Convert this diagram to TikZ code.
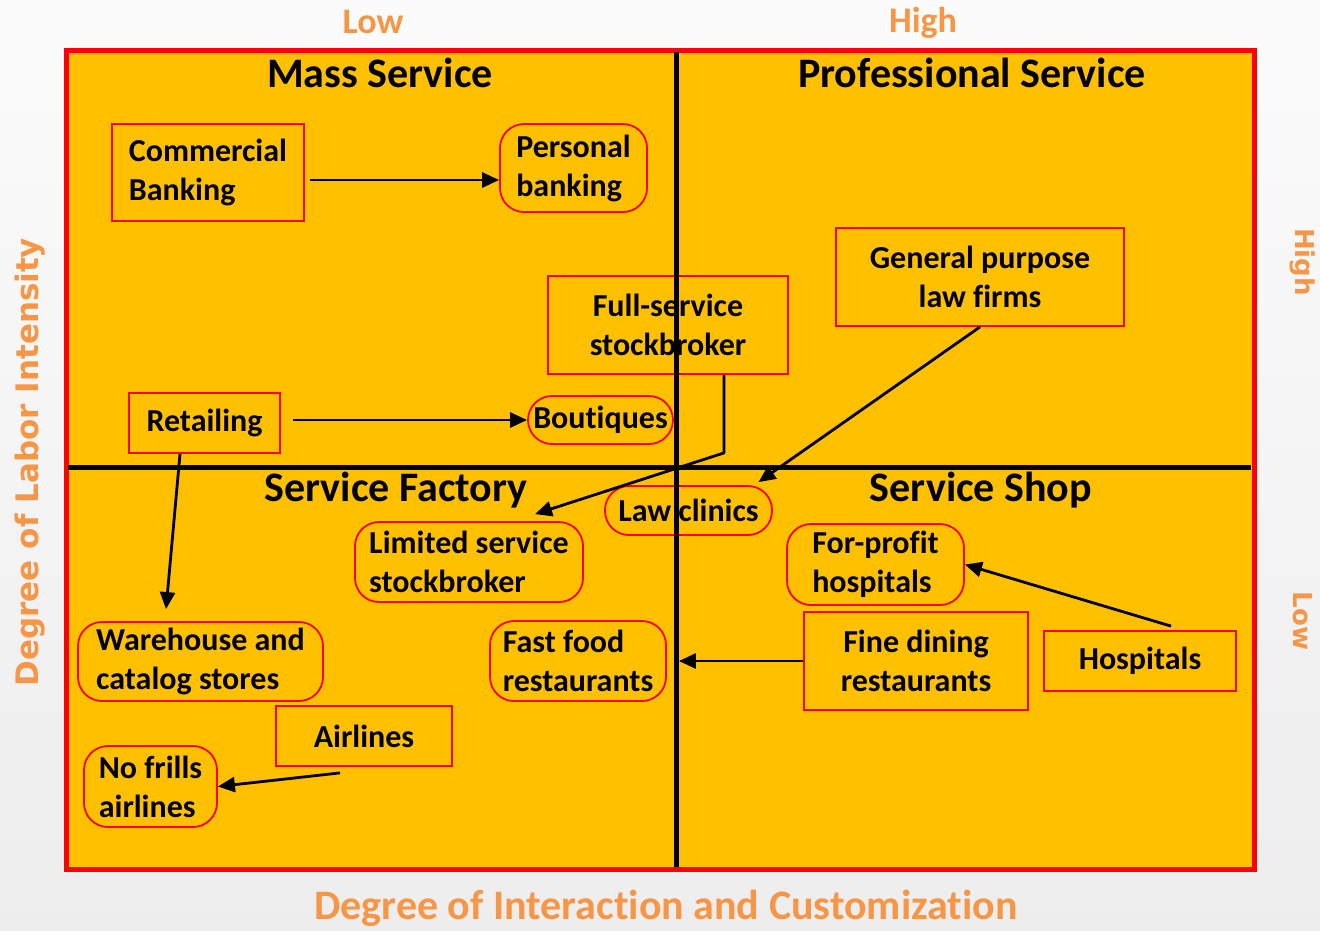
\documentclass[tikz,border=0pt]{standalone}
\usepackage{fontspec}
\setmainfont{Carlito}[Ligatures=NoCommon]
\newfontfamily\verdfont{DejaVu Sans}
\usetikzlibrary{arrows.meta,calc}
\definecolor{quadgold}{RGB}{255,192,0}
\definecolor{axisorange}{RGB}{247,150,70}
\newcommand\boxfont{\fontsize{32}{39}\selectfont\bfseries}
\newcommand\quadfont{\fontsize{42}{48}\selectfont\bfseries}
\tikzset{every picture/.style={line width=0.5pt}}

\begin{document}
\begin{tikzpicture}[x=1pt,y=1pt,yscale=-1,xscale=1,
  sqbox/.style={draw=red,line width=1.8,inner sep=0.75pt,align=center,font=\boxfont},
  rndbox/.style={sqbox,rounded corners=24,align=left},
  quad/.style={inner sep=0pt,font=\quadfont},
  axis/.style={text=axisorange,inner sep=0pt},
  arr/.style={-{Triangle[length=17pt,width=15pt]},line width=2.8}]
\useasboundingbox (0,0) rectangle (1320,930);
%Shape: Background
\shade[top color=gray!3,bottom color=gray!14] (0,0) rectangle (1320,930);
%Shape: Rectangle [quadrants]
\draw[fill=quadgold,draw=red,line width=5] (66,50) rectangle (1254,869);

% Text Node
\node (ttlMass) at (380,73) [quad] {Mass Service};
% Text Node
\node (ttlProf) at (972,73) [quad] {Professional Service};
% Text Node
\node (ttlFact) at (396,490) [quad] {Service Factory};
% Text Node
\node (ttlShop) at (981,490) [quad] {Service Shop};

%Shape: Rectangle
\node (cb) at (208,172.5) [sqbox,minimum width=192,minimum height=97,align=left] {Commercial\\ Banking};
%Shape: Rounded Rect
\node (pb) at (573.5,168) [rndbox,minimum width=147,minimum height=88] {Personal\\banking};
%Shape: Rectangle
\node (fs) at (668,325) [sqbox,minimum width=240,minimum height=98] {Full-service\\stockbroker};
%Shape: Rectangle
\node (gl) at (980,277) [sqbox,minimum width=288,minimum height=98] {General purpose\\law firms};
%Shape: Rectangle
\node (rt) at (204.5,423) [sqbox,minimum width=151,minimum height=60] {Retailing};
%Shape: Rounded Rect
\node (bq) at (600.5,420) [rndbox,minimum width=145,minimum height=48] {Boutiques};
%Shape: Rounded Rect
\node (lc) at (688.5,510.5) [rndbox,minimum width=167,minimum height=49] {Law clinics};
%Shape: Rounded Rect
\node (ls) at (469,562) [rndbox,minimum width=228,minimum height=80] {Limited service\\stockbroker};
%Shape: Rounded Rect
\node (fp) at (875.5,564.5) [rndbox,minimum width=177,minimum height=81] {For-profit\\hospitals};
%Shape: Rounded Rect
\node (wh) at (200.5,661.5) [rndbox,minimum width=245,minimum height=79] {Warehouse and\\catalog stores};
%Shape: Rounded Rect
\node (ff) at (578,661) [rndbox,minimum width=176,minimum height=80] {Fast food\\restaurants};
%Shape: Rectangle
\node (fd) at (916,661) [sqbox,minimum width=224,minimum height=98] {Fine dining\\restaurants};
%Shape: Rectangle
\node (hs) at (1140,661) [sqbox,minimum width=192,minimum height=60] {Hospitals};
%Shape: Rectangle
\node (al) at (364,736) [sqbox,minimum width=176,minimum height=60] {Airlines};
%Shape: Rounded Rect
\node (nf) at (150.5,786.5) [rndbox,minimum width=133,minimum height=81] {No frills\\airlines};

%Straight Lines [dividers]
\draw[line width=5] (676,52) -- (676,867);
\draw[line width=5] (68,467) -- (1251,467);

%Straight Lines [arrows]
\draw[arr] ($(cb.east)+(5,7.5)$) -- ($(pb.west)+(0,12)$);
\draw[arr] ($(rt.east)+(12,-3)$) -- (bq.west);
\draw[arr] ($(rt.south)+(-24.5,0)$) -- ($(wh.north)+(-34.5,-12)$);
\draw[arr,line join=round] ($(fs.south)+(56,0)$) -- ++(0,78) -- ($(ls.north)+(66,-7)$);
\draw[arr] (gl.south) -- ($(lc.north)+(70,-3)$);
\draw[arr] ($(hs.north)+(31,-4)$) -- (fp.east);
\draw[arr] (fd.west) -- ($(ff.east)+(12,0)$);
\draw[arr] ($(al.south)+(-24,6)$) -- (nf.east);

% Text Node
\node (lowTop) at (373,22) [axis,font=\fontsize{36}{40}\selectfont\bfseries] {Low};
% Text Node
\node (highTop) at (923,23) [axis,font=\fontsize{36}{40}\selectfont\bfseries] {High};
% Text Node
\node (xlab) at (666,908) [axis,font=\fontsize{42}{46}\selectfont\bfseries] {Degree of Interaction and Customization};
% Text Node
\node (ylab) at (30,462) [axis,rotate=90,font=\verdfont\fontsize{31}{34}\selectfont\bfseries] {Degree of Labor Intensity};
% Text Node
\node (highRt) at (1303,262) [axis,rotate=-90,font=\verdfont\fontsize{26}{30}\selectfont\bfseries] {High};
% Text Node
\node (lowRt) at (1303,621) [axis,rotate=-90,font=\verdfont\fontsize{26}{30}\selectfont\bfseries] {Low};

\end{tikzpicture}
\end{document}
